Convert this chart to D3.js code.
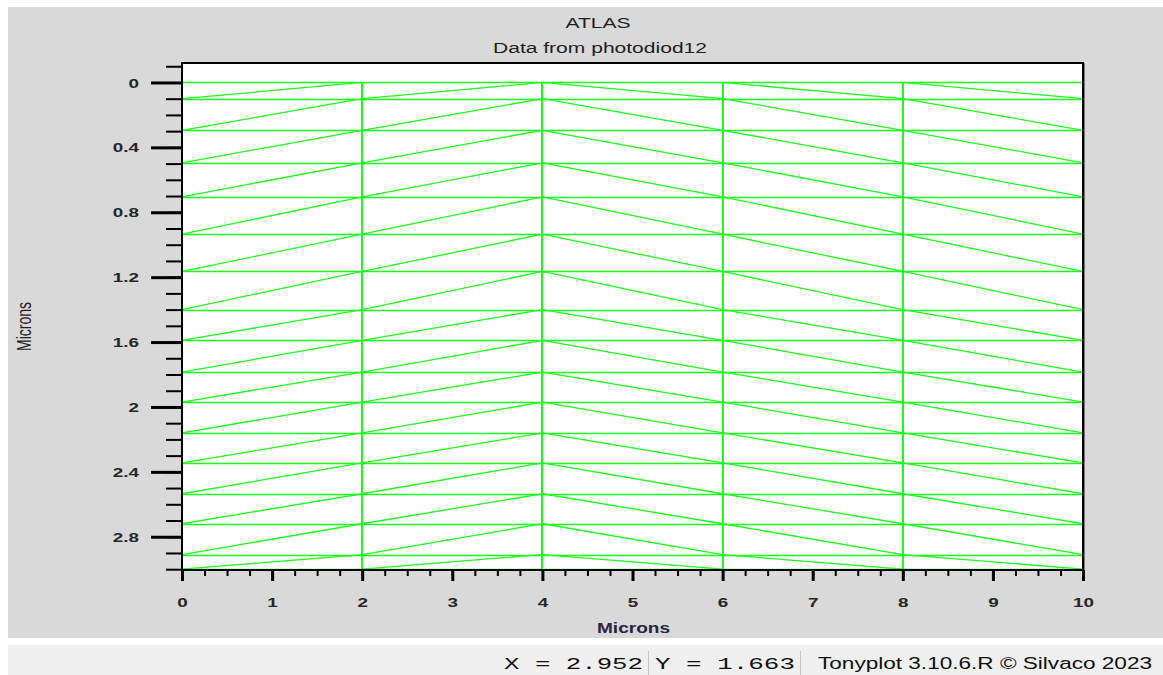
<!DOCTYPE html>
<html>
<head>
<meta charset="utf-8">
<script src="https://cdn.jsdelivr.net/npm/d3@7"></script>
<style>
  html, body { margin: 0; padding: 0; background: #fff; }
  svg { display: block; font-family: "Liberation Sans", Arial, sans-serif; }
  .tick line { stroke: #000; }
  .tick text { fill: #262626; font-weight: bold; }
</style>
</head>
<body>
<svg id="chart" width="1163" height="675"></svg>
<script>
// mesh nodes (microns)
const meshX = [0, 2, 4, 6, 8, 10];
const meshY = [0, 0.1, 0.295, 0.495, 0.705, 0.935, 1.165, 1.4, 1.59, 1.785,
  1.97, 2.16, 2.345, 2.535, 2.72, 2.91, 3.0];
const apexX = 4; // diagonals flip direction at this column

const xMajorTicks = [0, 1, 2, 3, 4, 5, 6, 7, 8, 9, 10];
const xTickLabels = ["0", "1", "2", "3", "4", "5", "6", "7", "8", "9", "10"];
const yMajorTicks = [0, 0.4, 0.8, 1.2, 1.6, 2, 2.4, 2.8];
const yTickLabels = ["0", "0.4", "0.8", "1.2", "1.6", "2", "2.4", "2.8"];
const xMinorTicks = d3.range(0, 41).map((i) => i * 0.25);
const yMinorTicks = d3.range(-1, 31).map((i) => i / 10);

const titleText = "ATLAS";
const subtitleText = "Data from photodiod12";
const xLabelText = "Microns";
const yLabelText = "Microns";
const statusX = "X = 2.952";
const statusY = "Y = 1.663";
const statusInfo = "Tonyplot 3.10.6.R \u00a9 Silvaco 2023";

const plot = { left: 182, right: 1083, top: 63, bottom: 570 };
const stretch = 1.45; // glyphs in the source are wide
const meshColor = "#19ff19";

const svg = d3.select("#chart");

// panel + status bar
svg.append("rect").attr("x", 8).attr("y", 7).attr("width", 1155).attr("height", 631)
  .attr("fill", "#d9d9d9");
svg.append("rect").attr("x", 8).attr("y", 645).attr("width", 1155).attr("height", 30)
  .attr("fill", "#f0f0f0");

const x = d3.scaleLinear().domain([0, 10]).range([plot.left, plot.right]);
const y = d3.scaleLinear().domain([-0.12, 3.005]).range([plot.top, plot.bottom]);

svg.append("rect")
  .attr("x", plot.left).attr("y", plot.top)
  .attr("width", plot.right - plot.left).attr("height", plot.bottom - plot.top)
  .attr("fill", "#fff");

// mesh
const meshG = svg.append("g").attr("class", "mesh");

meshG.selectAll("line.h")
  .data(meshY)
  .join("line")
  .attr("class", "h")
  .attr("x1", x(meshX[0])).attr("x2", x(meshX[meshX.length - 1]))
  .attr("y1", (d) => Math.round(y(d)) + 0.5).attr("y2", (d) => Math.round(y(d)) + 0.5)
  .attr("stroke", meshColor).attr("stroke-width", 1.4);

meshG.selectAll("line.v")
  .data(meshX)
  .join("line")
  .attr("class", "v")
  .attr("x1", (d) => x(d)).attr("x2", (d) => x(d))
  .attr("y1", y(meshY[0])).attr("y2", y(meshY[meshY.length - 1]))
  .attr("stroke", meshColor).attr("stroke-width", 2)
  .attr("shape-rendering", "crispEdges");

const diagonals = [];
for (let i = 0; i < meshY.length - 1; i += 1) {
  for (let j = 0; j < meshX.length - 1; j += 1) {
    if (meshX[j + 1] <= apexX) {
      diagonals.push({ x1: meshX[j], y1: meshY[i + 1], x2: meshX[j + 1], y2: meshY[i] });
    } else {
      diagonals.push({ x1: meshX[j], y1: meshY[i], x2: meshX[j + 1], y2: meshY[i + 1] });
    }
  }
}

meshG.selectAll("line.d")
  .data(diagonals)
  .join("line")
  .attr("class", "d")
  .attr("x1", (d) => x(d.x1)).attr("y1", (d) => y(d.y1))
  .attr("x2", (d) => x(d.x2)).attr("y2", (d) => y(d.y2))
  .attr("stroke", meshColor).attr("stroke-width", 1.3);

// axes
const yMinorG = svg.append("g").attr("transform", `translate(${plot.left},0)`)
  .call(d3.axisLeft(y).tickValues(yMinorTicks).tickSize(16).tickFormat(""));
yMinorG.select(".domain").remove();
yMinorG.selectAll(".tick line").attr("stroke-width", 2);

const yMajorG = svg.append("g").attr("transform", `translate(${plot.left},0)`)
  .call(d3.axisLeft(y).tickValues(yMajorTicks).tickSize(31)
    .tickFormat((d, i) => yTickLabels[i]));
yMajorG.select(".domain").remove();
yMajorG.selectAll(".tick line").attr("stroke-width", 3);
yMajorG.selectAll(".tick text")
  .attr("x", 0).attr("dy", null)
  .attr("font-size", 13).attr("font-family", null)
  .attr("transform", `translate(-43,4.6) scale(${stretch},1)`);

const xMinorG = svg.append("g").attr("transform", `translate(0,${plot.bottom})`)
  .call(d3.axisBottom(x).tickValues(xMinorTicks).tickSize(6).tickFormat(""));
xMinorG.select(".domain").remove();
xMinorG.selectAll(".tick line").attr("stroke-width", 2);

const xMajorG = svg.append("g").attr("transform", `translate(0,${plot.bottom})`)
  .call(d3.axisBottom(x).tickValues(xMajorTicks).tickSize(11)
    .tickFormat((d, i) => xTickLabels[i]));
xMajorG.select(".domain").remove();
xMajorG.selectAll(".tick line").attr("stroke-width", 3);
xMajorG.selectAll(".tick text")
  .attr("y", 0).attr("dy", null)
  .attr("font-size", 13).attr("font-family", null)
  .attr("transform", `translate(0,36.5) scale(${stretch},1)`);

// frame
svg.append("rect")
  .attr("x", plot.left).attr("y", plot.top)
  .attr("width", plot.right - plot.left).attr("height", plot.bottom - plot.top)
  .attr("fill", "none").attr("stroke", "#000").attr("stroke-width", 2);
svg.append("line")
  .attr("x1", plot.right + 1.5).attr("x2", plot.right + 1.5)
  .attr("y1", plot.top).attr("y2", plot.bottom)
  .attr("stroke", "#777").attr("stroke-width", 1);

// texts
function addText(str, px, py, size, width, opts = {}) {
  return svg.append("text")
    .attr("x", px).attr("y", py)
    .attr("text-anchor", opts.anchor || "middle")
    .attr("font-size", size)
    .attr("font-family", opts.family || null)
    .attr("font-weight", opts.weight || null)
    .attr("fill", opts.fill || "#1e1e1e")
    .attr("textLength", width)
    .attr("lengthAdjust", "spacingAndGlyphs")
    .text(str);
}

addText(titleText, 598, 27.5, 14, 65);
addText(subtitleText, 600, 53, 14, 214);
addText(xLabelText, 633.5, 633, 14, 73, { weight: "bold", fill: "#262640" });

svg.append("text")
  .attr("transform", `translate(31,326.5) rotate(-90) scale(1,${stretch})`)
  .attr("text-anchor", "middle")
  .attr("font-size", 14)
  .attr("fill", "#1e1e1e")
  .attr("textLength", 49)
  .attr("lengthAdjust", "spacingAndGlyphs")
  .text(yLabelText);

// status bar
addText(statusX, 504, 669, 17, 139,
  { anchor: "start", family: "'Liberation Mono', monospace", fill: "#111" });
addText(statusY, 655, 669, 17, 140,
  { anchor: "start", family: "'Liberation Mono', monospace", fill: "#111" });
addText(statusInfo, 818, 669, 16, 334, { anchor: "start", fill: "#111" });

svg.selectAll("line.sep")
  .data([648, 800])
  .join("line")
  .attr("class", "sep")
  .attr("x1", (d) => d + 0.5).attr("x2", (d) => d + 0.5)
  .attr("y1", 651).attr("y2", 675)
  .attr("stroke", "#c4c4c4").attr("stroke-width", 1);
</script>
</body>
</html>
